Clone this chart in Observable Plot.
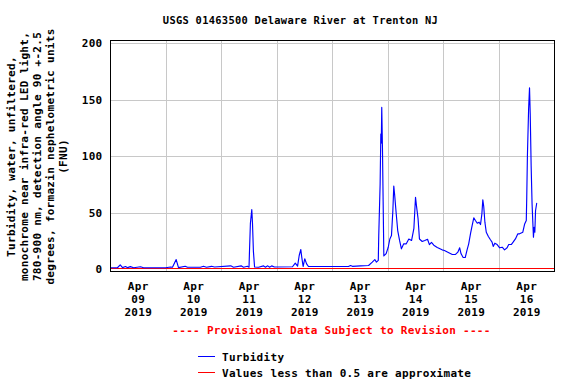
<!DOCTYPE html>
<html><head><meta charset="utf-8">
<script src="https://cdn.jsdelivr.net/npm/d3@7"></script>
<script src="https://cdn.jsdelivr.net/npm/@observablehq/plot@0.6"></script>
<style>
body{margin:0;background:#fff;}
svg text{letter-spacing:0.3px;}
</style></head><body><div id="chart"></div>
<script>
const title = "USGS 01463500 Delaware River at Trenton NJ";
const yTitleLines = [
  "Turbidity, water, unfiltered,",
  "monochrome near infra-red LED light,",
  "780-900 nm, detection angle 90 +-2.5",
  "degrees, formazin nephelometric units",
  "(FNU)"
];
const provisional = "---- Provisional Data Subject to Revision ----";
const legendLabels = ["Turbidity", "Values less than 0.5 are approximate"];
const yTicks = [0, 50, 100, 150, 200];
const dayLabels = ["2019-04-09","2019-04-10","2019-04-11","2019-04-12","2019-04-13","2019-04-14","2019-04-15","2019-04-16"];
const gridDays = ["2019-04-10","2019-04-11","2019-04-12","2019-04-13","2019-04-14","2019-04-15","2019-04-16"];
const startTime = "2019-04-09T00:00:00Z";
const endTime = "2019-04-17T00:00:00Z";
const approxThreshold = 0.5;

// hours since Apr 9 2019 00:00 and turbidity (FNU)
const hoursSinceStart = [
  0,3,4.2,5.2,6.5,7.4,8.6,10,13,14.3,23.8,
  26,26.8,28.4,29.4,32.3,33.3,38.9,40.2,41.5,43.7,45,
  52,53.2,56.5,57.5,59.2,59.9,60.1,60.5,61.1,61.4,61.8,62.3,64,66.2,67,68,68.8,69.7,70.9,
  78.7,79.9,80.9,81.6,82.3,82.7,83.3,84,84.8,85.6,
  102.9,103.8,104.6,108.1,111.6,113.2,114.3,115,115.8,116,116.6,116.9,117.1,117.3,117.6,117.9,118.2,
  119.2,120.1,120.8,121.5,122.1,122.5,122.9,123.5,124.2,125,125.8,126.8,127.9,129,130.2,131.2,131.9,132.3,133,133.6,134.8,135.9,137.1,137.9,138.8,139.8,141.3,143.4,144.4,146.3,147.8,149.2,150.2,151,151.6,152.5,153.4,154.2,154.9,155.7,156.4,157.1,157.8,158.6,159.4,160,160.6,161,161.4,161.9,162.5,163.4,164.3,165,165.5,166.2,167.2,168.3,169.4,170.4,171.5,172.2,173.3,174.1,175.1,176.1,176.9,178.3,179.1,179.8,180,180.3,180.8,181.2,181.5,181.9,182.3,182.9,183.2,183.5,183.8,184.3
];
const turbidity = [
  1.5,1.5,4,1.6,2.6,1.6,2.5,1.5,2.4,1.5,1.5,
  2.2,2.0,8.8,1.6,2.8,2.0,2.0,2.8,2.0,2.8,2.2,
  3.2,2.0,3.2,2.0,2.8,2.0,16,41,53,41,16,2.2,2.0,3.2,2.0,3.2,2.0,3.2,2.2,
  2.4,5.6,2.9,12.4,17.7,10.9,2.6,9.5,5,2.6,
  2.6,3.5,2.8,3.2,3.5,6.5,8.8,6.5,8,30,76,120,112,143.6,108,60,12,
  14,19.7,27,30,52,74,65.5,50.7,34.5,25.7,18.3,22.7,22.7,27,25.7,36.5,64,56.6,45,27,24.8,25.7,26.8,22,24,21.5,19.5,17.4,16.8,14.8,13.3,13.3,15.3,19.2,13.9,10.6,10.6,17.4,22.7,32,39,45.7,43.4,41,41.9,39.8,49.3,61.7,55.8,41.9,33,29.2,26.3,24.2,20.4,23.3,22.1,19.2,19.7,17.4,19.2,22.1,22.1,24.2,27.1,31.5,31.6,33,40.4,43.4,64,102,142,161,138,92,58,28.6,37.4,33,52,58.7
];

const t0 = new Date(startTime).getTime();
const data = hoursSinceStart.map((h, i) => ({date: new Date(t0 + h * 3600e3), value: turbidity[i]}));
const noonTicks = dayLabels.map(d => new Date(d + "T12:00:00Z"));
const gridDates = gridDays.map(d => new Date(d + "T00:00:00Z"));
const fmtTick = d => `Apr\n${String(d.getUTCDate()).padStart(2, "0")}\n${d.getUTCFullYear()}`;

const legendSwatches = (index, scales, values, dims) => {
  const g = d3.create("svg:g");
  const base = dims.height - dims.marginBottom;
  const x0 = dims.marginLeft + 88, x1 = dims.marginLeft + 105;
  [["#0000ff", 85.5], ["#ff0000", 101.5]].forEach(([c, dy]) => {
    g.append("line").attr("x1", x0).attr("x2", x1)
      .attr("y1", base + dy).attr("y2", base + dy)
      .attr("stroke", c).attr("stroke-width", 1);
  });
  return g.node();
};

const chart = Plot.plot({
  width: 576,
  height: 384,
  marginLeft: 110,
  marginRight: 22,
  marginTop: 40,
  marginBottom: 113,
  style: {fontFamily: "'DejaVu Sans Mono', monospace", fontSize: "11px", fontWeight: "bold", color: "black", background: "white"},
  x: {type: "utc", domain: [new Date(startTime), new Date(endTime)]},
  y: {domain: [-1.8, 202.9]},
  marks: [
    Plot.gridX(gridDates, {stroke: "#c8c8c8", strokeOpacity: 1, shapeRendering: "crispEdges"}),
    Plot.gridY(yTicks.filter(d => d > 0), {stroke: "#c8c8c8", strokeOpacity: 1, shapeRendering: "crispEdges"}),
    Plot.ruleY([approxThreshold], {stroke: "#ff0000", strokeWidth: 1, shapeRendering: "crispEdges"}),
    Plot.line(data, {x: "date", y: "value", stroke: "#0000ff", strokeWidth: 1.15}),
    Plot.frame({stroke: "black", strokeWidth: 1, shapeRendering: "crispEdges"}),
    Plot.axisY(yTicks, {anchor: "left", tickSize: 0, tickPadding: 8, label: null, fill: "black"}),
    Plot.axisX(noonTicks, {anchor: "bottom", tickSize: 0, tickPadding: 9, tickFormat: fmtTick, lineHeight: 1.18, label: null, fill: "black"}),
    Plot.text([title], {frameAnchor: "top", lineAnchor: "middle", dx: -32, dy: -20, fontSize: 10.4, fill: "black"}),
    Plot.text([yTitleLines.join("\n")], {frameAnchor: "left", dx: -74, dy: 0.5, rotate: -90, lineAnchor: "middle", textAnchor: "middle", lineHeight: 1.18, fill: "black"}),
    Plot.text([provisional], {frameAnchor: "bottom", lineAnchor: "middle", dx: -1, dy: 59, fill: "#ff0000"}),
    Plot.text([legendLabels[0]], {frameAnchor: "bottom-left", lineAnchor: "middle", dx: 111.5, dy: 85.5, textAnchor: "start", fill: "black"}),
    Plot.text([legendLabels[1]], {frameAnchor: "bottom-left", lineAnchor: "middle", dx: 111.5, dy: 102, textAnchor: "start", fill: "black"}),
    legendSwatches
  ]
});
document.getElementById("chart").appendChild(chart);
</script></body></html>
